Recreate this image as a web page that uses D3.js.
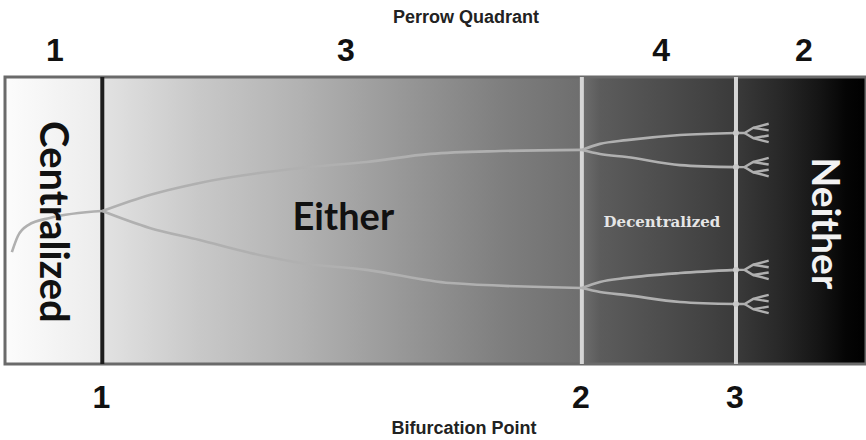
<!DOCTYPE html>
<html>
<head>
<meta charset="utf-8">
<script src="https://d3js.org/d3.v7.min.js"></script>
<style>
  body { margin: 0; background: #fff; }
  svg { display: block; }
</style>
</head>
<body>
<svg width="866" height="440"></svg>
<script>
// chart units: x runs 0..100 across the band, y 0..100 from top to bottom
var quadrantNames = ["1", "3", "4", "2"];
var quadrantAt = [5.8, 39.6, 76.2, 92.8];
var bifurcationNames = ["1", "2", "3"];
var bifurcationAt = [11.3, 67.0, 84.9];

var regionNames = ["Centralized", "Either", "Decentralized", "Neither"];
var regionX = [5.7, 33.4, 76.3, 95.4];
var regionY = [50.5, 53.3, 52.3, 51.0];

var shadeAt = [0, 11.2, 11.5, 22.6, 34.3, 45.9, 57.5, 67.0, 69.1, 80.7, 84.9, 90.0, 94.7, 97.6, 100];
var shadeGrey = [252, 236, 226, 200, 178, 152, 127, 110, 92, 68, 58, 40, 20, 5, 0];

var stemPath = [[0.8, 61.0], [1.5, 55.4], [2.7, 51.6], [5.2, 49.1], [11.3, 46.7]];
var upperPath = [[11.3, 46.7], [16.8, 41.1], [22.6, 36.9], [34.3, 31.7], [42.0, 29.6], [49.4, 26.8], [57.5, 25.8], [67.0, 25.4]];
var lowerPath = [[11.3, 46.7], [16.8, 52.6], [22.6, 56.8], [28.5, 61.3], [34.3, 64.8], [42.0, 67.2], [51.7, 71.8], [67.0, 73.5]];
var upperUpPath = [[67.0, 25.4], [69.1, 23.3], [72.2, 22.0], [78.4, 20.2], [84.9, 19.5]];
var upperDownPath = [[67.0, 25.4], [69.1, 26.8], [72.2, 27.9], [78.4, 30.7], [84.9, 31.4]];
var lowerUpPath = [[67.0, 73.5], [69.1, 71.4], [72.2, 70.0], [78.4, 68.3], [84.9, 67.2]];
var lowerDownPath = [[67.0, 73.5], [69.1, 74.9], [72.2, 76.0], [78.4, 78.4], [84.9, 79.1]];

var forkNodes = [19.5, 31.4, 67.2, 79.1];
var forkLines = [
  [[0, 0], [1.0, 0], [2.0, -1.8], [3.8, -3.2]],
  [[2.0, -1.8], [3.8, -0.9]],
  [[1.0, 0], [2.0, 1.8], [3.8, 3.2]],
  [[2.0, 1.8], [3.8, 0.9]]
];

var svg = d3.select("svg");
var x = d3.scaleLinear().domain([0, 100]).range([5, 866]);
var y = d3.scaleLinear().domain([0, 100]).range([77, 364]);

// background shading
var grad = svg.append("defs").append("linearGradient")
  .attr("id", "shade")
  .attr("x1", "0%").attr("x2", "100%").attr("y1", "0%").attr("y2", "0%");
grad.selectAll("stop")
  .data(shadeAt)
  .enter()
  .append("stop")
  .attr("offset", function(d) { return d + "%"; })
  .attr("stop-color", function(d, i) { return d3.rgb(shadeGrey[i], shadeGrey[i], shadeGrey[i]); });

svg.append("rect")
  .attr("x", x(0))
  .attr("y", y(0))
  .attr("width", x(100) - x(0))
  .attr("height", y(100) - y(0))
  .attr("fill", "url(#shade)")
  .attr("stroke", "#6a6a6a")
  .attr("stroke-width", 3);

// bifurcation lines
svg.selectAll(".bif")
  .data(bifurcationAt)
  .enter()
  .append("line")
  .attr("class", "bif")
  .attr("x1", function(d) { return x(d); })
  .attr("x2", function(d) { return x(d); })
  .attr("y1", y(0))
  .attr("y2", y(100))
  .attr("stroke", function(d, i) { return i == 0 ? "#1e1e1e" : "#d6d6d6"; })
  .attr("stroke-width", 4);

// branching curves
var line = d3.line()
  .x(function(d) { return x(d[0]); })
  .y(function(d) { return y(d[1]); })
  .curve(d3.curveMonotoneX);

var paths = [stemPath, upperPath, lowerPath, upperUpPath, upperDownPath, lowerUpPath, lowerDownPath];
svg.selectAll(".branch")
  .data(paths)
  .enter()
  .append("path")
  .attr("class", "branch")
  .attr("d", line)
  .attr("fill", "none")
  .attr("stroke", "#b0b0b0")
  .attr("stroke-width", 2.6);

// small forks at the third bifurcation
var forkLine = d3.line()
  .x(function(d) { return x(d[0]); })
  .y(function(d) { return y(d[1]); });

forkNodes.forEach(function(n) {
  svg.selectAll(null)
    .data(forkLines)
    .enter()
    .append("path")
    .attr("d", function(seg) {
      return forkLine(seg.map(function(p) { return [bifurcationAt[2] + p[0], n + p[1]]; }));
    })
    .attr("fill", "none")
    .attr("stroke", "#b0b0b0")
    .attr("stroke-width", 2.4);
  svg.append("circle")
    .attr("cx", x(bifurcationAt[2]))
    .attr("cy", y(n))
    .attr("r", 3)
    .attr("fill", "#c8c8c8");
});

// region labels
svg.append("text")
  .attr("transform", "translate(" + (x(regionX[0]) - 14) + "," + y(regionY[0]) + ") rotate(90)")
  .attr("text-anchor", "middle")
  .attr("font-family", "Lato")
  .attr("font-weight", "bold")
  .attr("font-size", "40px")
  .attr("fill", "#111")
  .text(regionNames[0]);

svg.append("text")
  .attr("x", x(regionX[1]))
  .attr("y", y(regionY[1]))
  .attr("font-family", "Lato")
  .attr("font-weight", "bold")
  .attr("font-size", "38px")
  .attr("fill", "#111")
  .text(regionNames[1]);

svg.append("text")
  .attr("x", x(regionX[2]))
  .attr("y", y(regionY[2]))
  .attr("text-anchor", "middle")
  .attr("font-family", "DejaVu Serif")
  .attr("font-weight", "bold")
  .attr("font-size", "15px")
  .attr("fill", "#e6e6e6")
  .text(regionNames[2]);

svg.append("text")
  .attr("transform", "translate(" + (x(regionX[3]) - 14) + "," + y(regionY[3]) + ") rotate(90)")
  .attr("text-anchor", "middle")
  .attr("font-family", "Lato")
  .attr("font-weight", "bold")
  .attr("font-size", "39px")
  .attr("fill", "#f2f2f2")
  .text(regionNames[3]);

// numbers and titles
svg.selectAll(".quad")
  .data(quadrantNames)
  .enter()
  .append("text")
  .attr("class", "quad")
  .attr("x", function(d, i) { return x(quadrantAt[i]); })
  .attr("y", 61)
  .attr("text-anchor", "middle")
  .attr("font-family", "Liberation Sans")
  .attr("font-weight", "bold")
  .attr("font-size", "32px")
  .attr("fill", "#111")
  .text(function(d) { return d; });

svg.selectAll(".bifnum")
  .data(bifurcationNames)
  .enter()
  .append("text")
  .attr("class", "bifnum")
  .attr("x", function(d, i) { return x(bifurcationAt[i]) - 1; })
  .attr("y", 408)
  .attr("text-anchor", "middle")
  .attr("font-family", "Liberation Sans")
  .attr("font-weight", "bold")
  .attr("font-size", "32px")
  .attr("fill", "#111")
  .text(function(d) { return d; });

svg.append("text")
  .attr("x", 466)
  .attr("y", 23)
  .attr("text-anchor", "middle")
  .attr("font-family", "Liberation Sans")
  .attr("font-weight", "bold")
  .attr("font-size", "18px")
  .attr("fill", "#222")
  .text("Perrow Quadrant");

svg.append("text")
  .attr("x", 464)
  .attr("y", 434)
  .attr("text-anchor", "middle")
  .attr("font-family", "Liberation Sans")
  .attr("font-weight", "bold")
  .attr("font-size", "18px")
  .attr("fill", "#222")
  .text("Bifurcation Point");
</script>
</body>
</html>
